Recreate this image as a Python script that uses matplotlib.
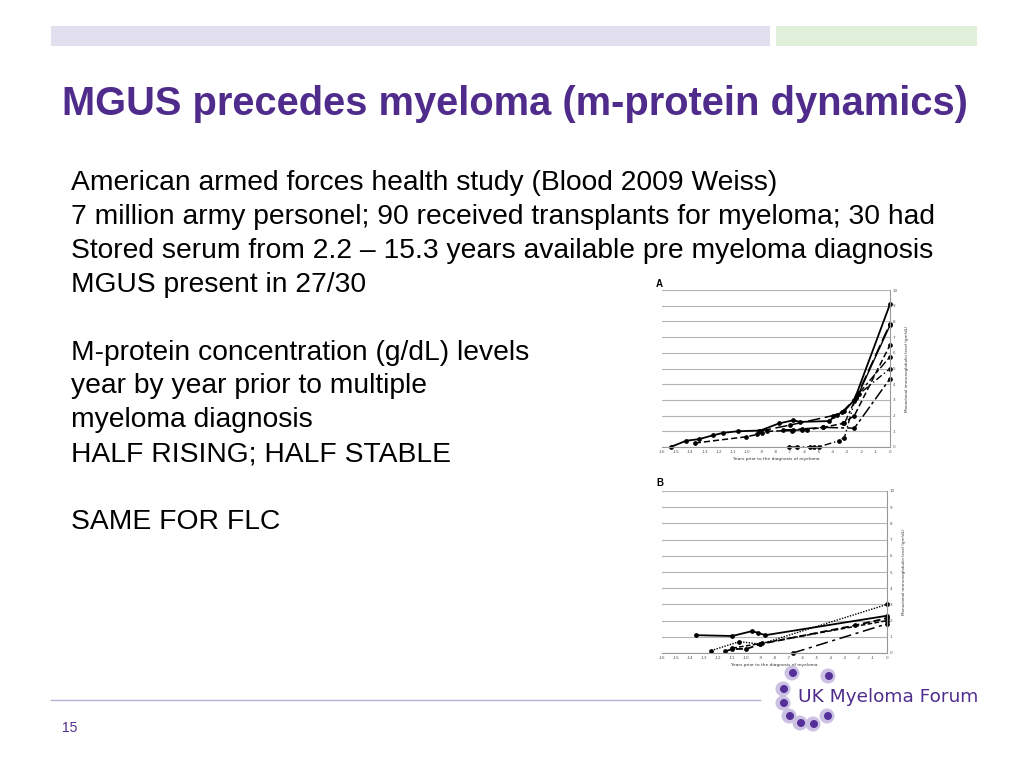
import matplotlib
matplotlib.use("Agg")
import matplotlib.pyplot as plt
from matplotlib.patches import Rectangle, Circle
from matplotlib.lines import Line2D

W, H = 1024, 768

# ---------------- data ----------------
title = "MGUS precedes myeloma (m-protein dynamics)"
body_lines = [
    "American armed forces health study (Blood 2009 Weiss)",
    "7 million army personel; 90 received transplants for myeloma; 30 had",
    "Stored serum from 2.2 \u2013 15.3 years available pre myeloma diagnosis",
    "MGUS present in 27/30",
    "",
    "M-protein concentration (g/dL) levels",
    "year by year prior to multiple",
    "myeloma diagnosis",
    "HALF RISING; HALF STABLE",
    "",
    "SAME FOR FLC",
]
page_number = "15"
logo_text = "UK Myeloma Forum"

x_ticks = list(range(-16, 1))
y_ticks = list(range(0, 11))
x_label = "Years prior to the diagnosis of myeloma"
y_label = "Monoclonal immunoglobulin level (gm/dL)"

# Panel A (rising)
a1_x = [-15.4, -14.3, -13.4, -12.4, -11.7, -10.7, -9.1, -7.8, -6.8, -6.3, -4.3, -3.7, -3.2, -2.5, 0]
a1_y = [0.0, 0.4, 0.5, 0.75, 0.9, 1.0, 1.05, 1.5, 1.7, 1.6, 1.65, 2.05, 2.3, 3.0, 9.1]
a2_x = [-9.2, -7.0, -4.0, -3.4, -2.4, 0]
a2_y = [1.0, 1.4, 2.0, 2.2, 3.1, 7.85]
a3_x = [-13.7, -10.1, -9.3, -9.0, -8.6, -6.9, -6.2, -5.8, -4.7, -3.3, -2.5, 0]
a3_y = [0.25, 0.65, 0.8, 0.9, 1.0, 1.05, 1.1, 1.1, 1.25, 1.5, 2.0, 6.5]
a4_x = [-7.5, -6.8, -6.2, -4.7, -2.5, 0]
a4_y = [1.1, 1.1, 1.15, 1.25, 1.2, 4.35]
a5_x = [-7.1, -6.5, -5.6, -5.3, -5.0, -3.6, -3.2, -2.4, 0]
a5_y = [0.0, 0.0, 0.0, 0.0, 0.0, 0.4, 0.6, 3.2, 5.0]
a6_x = [-3.2, -2.3, 0]
a6_y = [1.5, 3.3, 5.75]
a7_x = [-2.5, -2.2, 0]
a7_y = [2.9, 3.4, 7.75]

# Panel B (stable)
b1_x = [-13.6, -11.0, -9.6, -9.2, -8.65, 0]
b1_y = [1.1, 1.05, 1.35, 1.25, 1.1, 2.3]
b2_x = [-12.5, -10.5, -9.0, 0]
b2_y = [0.15, 0.7, 0.55, 3.0]
b3_x = [-11.5, -11.0, -10.0, -9.0, -2.3, 0]
b3_y = [0.1, 0.25, 0.25, 0.55, 1.7, 2.15]
b4_x = [-11.0, -8.9, 0]
b4_y = [0.3, 0.6, 2.0]
b5_x = [-6.7, 0]
b5_y = [0.0, 1.8]

# ---------------- figure ----------------
fig = plt.figure(figsize=(W / 100, H / 100), dpi=100)
fig.patch.set_facecolor("white")

def fx(x):
    return x / W

def fy(y):
    return 1 - y / H

purple = "#4F2C8C"

# top bars
fig.add_artist(Rectangle((fx(51), fy(46)), fx(770) - fx(51), fy(26) - fy(46),
                         transform=fig.transFigure, color="#E2DFEE", lw=0))
fig.add_artist(Rectangle((fx(776), fy(46)), fx(977) - fx(776), fy(26) - fy(46),
                         transform=fig.transFigure, color="#E0EFDA", lw=0))

# title
fig.text(fx(62), fy(104), title, fontsize=28.7, fontweight="bold", color=purple,
         family="Liberation Sans", va="center", ha="left")

# body
y0 = 183
for i, line in enumerate(body_lines):
    if line:
        fig.text(fx(71), fy(y0 + i * 33.9), line, fontsize=20.3, color="black",
                 family="Liberation Sans", va="center", ha="left")

# bottom line and page number
fig.add_artist(Line2D([fx(51), fx(760)], [fy(700), fy(700)], transform=fig.transFigure,
                      color="#B9AED6", lw=1.0))
fig.text(fx(70), fy(728), page_number, fontsize=10, color=purple,
         family="Liberation Sans", va="center", ha="center")

# ---------------- charts ----------------
def make_chart(box, series, label, lab_pos):
    left, right, top, bottom = box
    ax = fig.add_axes([fx(left), fy(bottom), fx(right) - fx(left), fy(top) - fy(bottom)])
    ax.set_xlim(-16, 0)
    ax.set_ylim(0, 10)
    ax.set_xticks(x_ticks)
    ax.set_yticks(y_ticks)
    ax.set_xticklabels([str(t) for t in x_ticks], fontsize=3)
    ax.set_yticklabels([str(t) for t in y_ticks], fontsize=3)
    ax.yaxis.tick_right()
    ax.yaxis.set_label_position("right")
    ax.tick_params(length=0, pad=2, colors="#555555")
    ax.grid(axis="y", color="#B5B5B5", lw=0.8)
    ax.set_axisbelow(True)
    for s in ["top", "left"]:
        ax.spines[s].set_visible(False)
    ax.spines["right"].set_color("#999999")
    ax.spines["bottom"].set_color("#999999")
    ax.spines["right"].set_linewidth(0.8)
    ax.spines["bottom"].set_linewidth(0.8)
    ax.set_xlabel(x_label, fontsize=3.2, labelpad=2, color="#333333")
    ax.set_ylabel(y_label, fontsize=3.0, labelpad=5, color="#333333")
    for xs, ys, ls, lw in series:
        ax.plot(xs, ys, color="black", linestyle=ls, lw=lw, marker="o", ms=2.4,
                clip_on=False)
    fig.text(fx(lab_pos[0]), fy(lab_pos[1]), label, fontsize=7, fontweight="bold",
             family="Liberation Sans", va="center", ha="left")
    return ax

series_a = [
    (a1_x, a1_y, "-", 1.3),
    (a2_x, a2_y, (0, (8, 3)), 1.1),
    (a3_x, a3_y, (0, (4, 2)), 1.1),
    (a4_x, a4_y, (0, (8, 2, 2, 2)), 1.1),
    (a5_x, a5_y, (0, (5, 2, 1, 2, 1, 2)), 1.0),
    (a6_x, a6_y, (0, (6, 2, 2, 2)), 1.0),
    (a7_x, a7_y, "-", 1.0),
]
series_b = [
    (b1_x, b1_y, "-", 1.3),
    (b2_x, b2_y, (0, (1, 1)), 1.0),
    (b3_x, b3_y, (0, (4, 2)), 1.3),
    (b4_x, b4_y, (0, (3, 1.5)), 1.1),
    (b5_x, b5_y, (0, (8, 3, 2, 3)), 1.1),
]

make_chart((662, 890, 290, 447), series_a, "A", (656, 284))
make_chart((662, 887, 491, 653), series_b, "B", (656, 483))

# ---------------- logo ----------------
dots = [(792, 673), (828, 676), (783, 689), (783, 703), (789, 716), (800, 723), (813, 724), (827, 716)]
logo_ax = fig.add_axes([0, 0, 1, 1], facecolor="none")
logo_ax.set_xlim(0, W)
logo_ax.set_ylim(H, 0)
logo_ax.axis("off")
for (dx, dy) in dots:
    logo_ax.add_patch(Circle((dx, dy), 7.5, color="#CBC1E2", lw=0))
    logo_ax.add_patch(Circle((dx + 1, dy), 4, color="#55309A", lw=0))
logo_ax.text(978, 697, logo_text, fontsize=13.3, color=purple, family="DejaVu Sans",
             va="center", ha="right")

fig.savefig("out.png", dpi=100)
